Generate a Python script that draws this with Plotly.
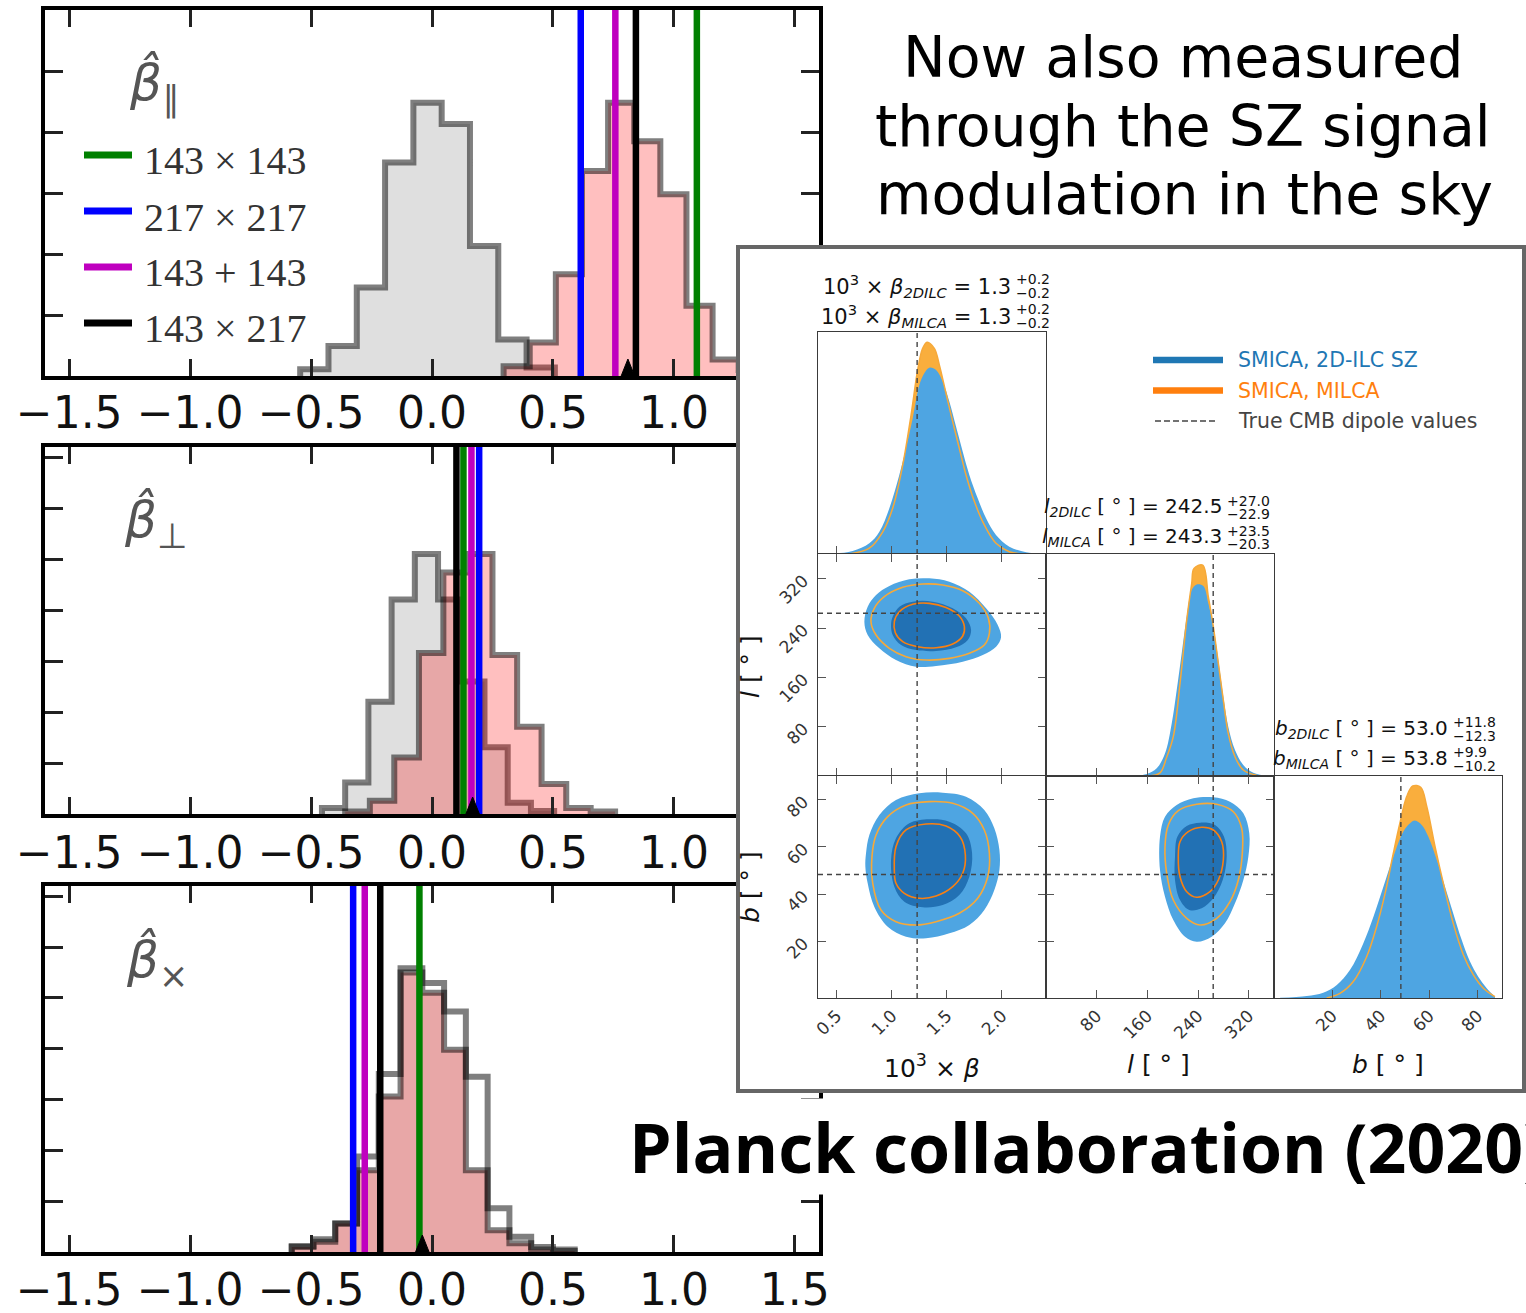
import plotly.graph_objects as go

W, H = 1526, 1313


def fx(p):
    return p / W


def fy(p):
    return 1 - p / H


# ---------------------------------------------------------------------------
# Left column: histograms of the boost estimators (null vs. signal)
# ---------------------------------------------------------------------------
est_xticks = [-1.5, -1.0, -0.5, 0.0, 0.5, 1.0, 1.5]
est_names = ["143 × 143", "217 × 217", "143 + 143", "143 × 217"]
est_colors = ["#008000", "#0000ff", "#bf00bf", "#000000"]

# beta parallel
par_null_edges = [-0.545, -0.428, -0.311, -0.194, -0.077, 0.040, 0.157, 0.274, 0.391, 0.508]
par_null_counts = [0.11, 0.49, 1.45, 3.50, 4.48, 4.13, 2.13, 0.60, 0.14]
par_sig_edges = [0.296, 0.404, 0.512, 0.620, 0.728, 0.836, 0.944, 1.052, 1.160, 1.268, 1.376]
par_sig_counts = [0.16, 0.55, 1.67, 3.36, 4.48, 3.85, 2.98, 1.15, 0.27, 0.10]
par_lines = [1.095, 0.615, 0.758, 0.843]
par_peak = 0.81

# beta perpendicular
perp_null_edges = [-0.455, -0.359, -0.263, -0.167, -0.071, 0.025, 0.121, 0.217, 0.313, 0.409, 0.505]
perp_null_counts = [0.12, 0.62, 2.20, 4.21, 5.10, 4.21, 2.60, 1.31, 0.22, 0.06]
perp_sig_edges = [-0.359, -0.257, -0.156, -0.054, 0.047, 0.149, 0.250, 0.352, 0.453, 0.555, 0.656, 0.757]
perp_sig_counts = [0.05, 0.26, 1.11, 3.16, 4.74, 5.10, 3.12, 1.71, 0.59, 0.12, 0.05]
perp_lines = [0.130, 0.195, 0.163, 0.101]
perp_peak = 0.168

# beta cross
cross_edges = [-0.58, -0.49, -0.40, -0.31, -0.22, -0.13, -0.04, 0.05, 0.14, 0.23, 0.32, 0.41, 0.50, 0.59]
cross_null_counts = [0.12, 0.25, 0.56, 1.88, 3.50, 5.58, 5.29, 4.73, 3.45, 0.86, 0.30, 0.10, 0.05]
cross_sig_counts = [0.10, 0.20, 0.56, 1.61, 3.06, 5.50, 5.10, 3.98, 1.61, 0.43, 0.17, 0.05, 0.02]
cross_lines = [-0.052, -0.326, -0.278, -0.214]
cross_peak = -0.040

# ---------------------------------------------------------------------------
# Right inset: posterior of the dipole from the SZ modulation
# ---------------------------------------------------------------------------
truth_beta, truth_l, truth_b = 1.23, 264.0, 48.3

beta_x_2dilc = [0.36, 0.49, 0.645, 0.796, 0.887, 0.978, 1.068, 1.129, 1.19, 1.25, 1.295, 1.341, 1.402,
                1.462, 1.523, 1.583, 1.644, 1.704, 1.78, 1.856, 1.946, 2.067, 2.22, 2.37]
beta_p_2dilc = [0.0, 0.003, 0.014, 0.048, 0.10, 0.206, 0.356, 0.476, 0.611, 0.761, 0.814, 0.839, 0.829,
                0.776, 0.686, 0.574, 0.461, 0.356, 0.251, 0.161, 0.086, 0.033, 0.008, 0.001]
beta_x_milca = [0.614, 0.796, 0.918, 1.008, 1.099, 1.175, 1.235, 1.28, 1.32, 1.386, 1.432, 1.492, 1.553,
                1.613, 1.674, 1.75, 1.84, 1.946, 2.067, 2.19]
beta_p_milca = [0.0, 0.026, 0.10, 0.206, 0.40, 0.626, 0.829, 0.926, 0.954, 0.926, 0.851, 0.724, 0.596,
                0.476, 0.356, 0.236, 0.131, 0.048, 0.010, 0.0]

l_x_2dilc = [143.2, 159, 174.8, 188, 198.5, 206.4, 214.3, 222.2, 230.1, 238, 248.4, 256.3, 264.2,
             272.1, 280, 287.8, 298.4, 311.5, 327.3, 353.7]
l_p_2dilc = [0.0, 0.009, 0.035, 0.102, 0.237, 0.387, 0.553, 0.718, 0.838, 0.863, 0.856, 0.778, 0.673,
             0.523, 0.357, 0.222, 0.117, 0.05, 0.015, 0.0]
l_x_milca = [162, 180, 190.5, 201, 211.6, 222.2, 230.1, 233.7, 247.4, 256.3, 264.2, 272.1, 280,
             287.8, 298.4, 311.5, 332.6]
l_p_milca = [0.0, 0.014, 0.084, 0.177, 0.417, 0.703, 0.868, 0.935, 0.95, 0.808, 0.673, 0.508, 0.342,
             0.192, 0.087, 0.027, 0.003]

b_x_2dilc = [-1.5, 9.5, 16.3, 21.9, 27.3, 32.8, 37.0, 41.1, 45.2, 49.3, 52.1, 54.1, 56.9, 59.6, 63.1,
             66.5, 69.9, 73.4, 76.8, 80.2, 83.7, 87.1]
b_p_2dilc = [0.001, 0.009, 0.024, 0.059, 0.126, 0.246, 0.366, 0.501, 0.636, 0.749, 0.787, 0.799, 0.779,
             0.727, 0.622, 0.501, 0.381, 0.261, 0.164, 0.096, 0.044, 0.006]
b_x_milca = [17.7, 23.2, 28.7, 34.2, 38.3, 41.8, 45.2, 47.9, 50.7, 53.2, 56.5, 59.0, 62.4, 65.8, 69.9,
             74.1, 78.2, 82.3, 87.1]
b_p_milca = [0.0, 0.021, 0.074, 0.186, 0.321, 0.471, 0.652, 0.787, 0.907, 0.955, 0.949, 0.862, 0.682,
             0.517, 0.336, 0.194, 0.104, 0.044, 0.006]

# 2D credible regions (outer / inner), beta-l plane
bl_outer_2dilc = [(0.751, 250.2), (0.781, 274.5), (0.857, 293.5), (0.978, 308.1), (1.159, 318.9),
                  (1.341, 320.5), (1.523, 315.1), (1.704, 298.9), (1.856, 271.9), (1.962, 244.8),
                  (1.992, 224.9), (1.947, 209.7), (1.826, 196.2), (1.644, 185.4), (1.402, 178.4),
                  (1.220, 177.2), (1.038, 188.1), (0.887, 207.1), (0.781, 228.6)]
bl_inner_2dilc = [(1.008, 258.3), (1.069, 274.5), (1.190, 282.7), (1.372, 282.7), (1.553, 271.9),
                  (1.674, 255.7), (1.720, 236.7), (1.690, 220.5), (1.583, 208.6), (1.402, 202.7),
                  (1.220, 204.3), (1.084, 212.4), (1.008, 228.6), (0.993, 244.8)]
bl_outer_milca = [(0.811, 250.2), (0.841, 271.9), (0.932, 290.8), (1.099, 305.9), (1.281, 311.3),
                  (1.462, 309.7), (1.644, 300.5), (1.795, 280.0), (1.877, 255.7), (1.886, 231.4),
                  (1.840, 212.4), (1.704, 198.9), (1.523, 190.8), (1.311, 188.1), (1.129, 193.5),
                  (0.978, 207.1), (0.857, 228.6)]
bl_inner_milca = [(1.023, 250.2), (1.069, 266.4), (1.190, 278.4), (1.341, 280.0), (1.492, 273.2),
                  (1.613, 259.4), (1.659, 242.1), (1.644, 227.0), (1.553, 214.0), (1.402, 208.0),
                  (1.235, 209.7), (1.099, 217.8), (1.032, 232.4)]

# beta-b plane
bb_outer_2dilc = [(0.766, 57.27), (0.796, 65.02), (0.887, 73.49), (1.038, 79.84), (1.250, 82.67),
                  (1.462, 82.93), (1.674, 81.24), (1.840, 75.60), (1.931, 67.85), (1.977, 58.67),
                  (1.977, 50.20), (1.931, 41.73), (1.840, 33.26), (1.704, 26.91), (1.523, 23.39),
                  (1.311, 21.27), (1.129, 21.98), (0.963, 26.19), (0.841, 34.66), (0.781, 44.57),
                  (0.760, 51.6)]
bb_inner_2dilc = [(0.993, 54.43), (1.038, 63.61), (1.159, 69.97), (1.341, 71.66), (1.523, 70.67),
                  (1.674, 65.73), (1.729, 57.27), (1.704, 47.36), (1.613, 39.61), (1.462, 35.38),
                  (1.281, 34.40), (1.114, 36.78), (1.023, 43.13)]
bb_outer_milca = [(0.820, 55.84), (0.857, 65.02), (0.963, 72.78), (1.129, 77.72), (1.341, 79.13),
                  (1.553, 78.43), (1.735, 74.20), (1.840, 67.14), (1.886, 57.27), (1.871, 47.36),
                  (1.780, 38.22), (1.613, 31.86), (1.402, 28.33), (1.220, 26.91), (1.038, 28.33),
                  (0.902, 33.26), (0.827, 44.57)]
bb_inner_milca = [(1.023, 50.20), (1.038, 60.07), (1.129, 67.14), (1.311, 69.68), (1.492, 68.83),
                  (1.620, 64.30), (1.668, 56.55), (1.644, 48.80), (1.553, 43.13), (1.402, 39.19),
                  (1.250, 38.22), (1.114, 40.33), (1.038, 44.57)]

# l-b plane
lb_outer_2dilc = [(180.0, 64.30), (187.9, 72.78), (206.3, 77.72), (232.6, 80.55), (264.2, 80.97),
                  (290.5, 79.13), (311.6, 74.20), (321.0, 65.73), (319.5, 55.84), (311.6, 45.96),
                  (298.4, 36.09), (282.6, 27.63), (261.6, 21.98), (237.9, 19.84), (219.5, 21.98),
                  (201.0, 29.03), (187.9, 38.89), (180.0, 50.20)]
lb_inner_2dilc = [(203.7, 55.84), (207.4, 64.30), (222.2, 68.83), (243.2, 70.24), (266.9, 69.25),
                  (281.1, 64.30), (285.3, 55.84), (279.0, 45.96), (264.2, 38.22), (245.8, 33.98),
                  (226.3, 33.26), (211.6, 37.50), (203.7, 45.96)]
lb_outer_milca = [(187.9, 60.07), (193.1, 69.25), (208.9, 75.31), (237.9, 78.01), (269.5, 78.01),
                  (295.8, 74.88), (309.0, 67.85), (310.0, 57.27), (303.7, 45.96), (290.5, 36.78),
                  (269.5, 29.73), (243.2, 26.91), (222.2, 29.73), (201.0, 37.50), (190.6, 48.80)]
lb_inner_milca = [(208.9, 55.84), (211.6, 62.18), (224.7, 66.41), (245.8, 68.27), (264.2, 67.14),
                  (277.4, 62.18), (280.0, 54.43), (272.1, 45.96), (258.9, 41.01), (237.9, 38.64),
                  (222.2, 41.01), (211.6, 47.36)]

beta_ticks = [0.5, 1.0, 1.5, 2.0]
l_ticks = [80, 160, 240, 320]
b_ticks = [20, 40, 60, 80]

# ---------------------------------------------------------------------------
fig = go.Figure()

NULL_FILL = "rgba(128,128,128,0.25)"
SIG_FILL = "rgba(255,0,0,0.25)"
EDGE = "rgba(0,0,0,0.5)"


def step_xy(edges, counts):
    xs, ys = [edges[0]], [0]
    for i, c in enumerate(counts):
        xs += [edges[i], edges[i + 1]]
        ys += [c, c]
    xs.append(edges[-1])
    ys.append(0)
    return xs, ys


def add_hist(edges, counts, fill, ax, edge=EDGE):
    xs, ys = step_xy(edges, counts)
    fig.add_trace(go.Scatter(
        x=xs, y=ys, mode="lines", line=dict(color=edge, width=6),
        fill="toself" if fill else None, fillcolor=fill,
        xaxis="x" + ax, yaxis="y" + ax, showlegend=False, hoverinfo="skip"))


left_rows = [(10, 376), (447, 814), (886, 1252)]
left_x = (45, 819)
left_ymax = [6.0, 7.2, 7.2]
left_standoff = [-5, -3, -4]

panels = [
    ("", [(par_null_edges, par_null_counts, NULL_FILL), (par_sig_edges, par_sig_counts, SIG_FILL)],
     par_lines, par_peak),
    ("2", [(perp_null_edges, perp_null_counts, NULL_FILL), (perp_sig_edges, perp_sig_counts, SIG_FILL)],
     perp_lines, perp_peak),
    ("3", [(cross_edges, cross_sig_counts, "rgba(205,60,60,0.45)"), (cross_edges, cross_null_counts, None)],
     cross_lines, cross_peak),
]

for k, (ax, hists, vlines, peak) in enumerate(panels):
    ymax = left_ymax[k]
    for edges, counts, fill in hists:
        add_hist(edges, counts, fill, ax)
    for xv, col in zip(vlines, est_colors):
        fig.add_trace(go.Scatter(x=[xv, xv], y=[0, ymax], mode="lines", line=dict(color=col, width=6.5),
                                 xaxis="x" + ax, yaxis="y" + ax, showlegend=False, hoverinfo="skip"))
    # small marker of the estimator peak sitting on the axis
    top, bot = left_rows[k]
    unit_px = (bot - top) / ymax
    half_w, tip = 0.028, 17 / unit_px
    fig.add_trace(go.Scatter(x=[peak - half_w, peak, peak + half_w], y=[0, tip, 0], mode="lines",
                             fill="toself", fillcolor="black", line=dict(color="black", width=1),
                             xaxis="x" + ax, yaxis="y" + ax, showlegend=False, hoverinfo="skip"))

# white backdrop of the inset (its own subplot so it sits above the left panels)
inset_box = (736, 245, 1526, 1093)
fig.add_trace(go.Scatter(x=[None], y=[None], xaxis="x4", yaxis="y4", showlegend=False, hoverinfo="skip"))

BLUE_L, BLUE_D = "#4ea5e2", "#2271b4"
ORANGE_F, ORANGE_O, ORANGE_I = "#f9ae3d", "#f6a93a", "#f98012"
DASH = "#444444"


def add_pdf(ax, x2, p2, xm, pm, ymax=1.0, truth=None):
    fig.add_trace(go.Scatter(x=xm, y=pm, mode="lines", line=dict(width=0, shape="spline"),
                             fill="tozeroy", fillcolor=ORANGE_F, xaxis="x" + ax, yaxis="y" + ax,
                             showlegend=False, hoverinfo="skip"))
    fig.add_trace(go.Scatter(x=x2, y=p2, mode="lines", line=dict(width=0, shape="spline"),
                             fill="tozeroy", fillcolor=BLUE_L, xaxis="x" + ax, yaxis="y" + ax,
                             showlegend=False, hoverinfo="skip"))
    fig.add_trace(go.Scatter(x=xm, y=pm, mode="lines", line=dict(width=1.5, color=ORANGE_O, shape="spline"),
                             xaxis="x" + ax, yaxis="y" + ax, showlegend=False, hoverinfo="skip"))
    fig.add_trace(go.Scatter(x=[truth, truth], y=[0, ymax], mode="lines",
                             line=dict(width=1.4, color=DASH, dash="5px,4px"),
                             xaxis="x" + ax, yaxis="y" + ax, showlegend=False, hoverinfo="skip"))


def closed(pts):
    xs = [p[0] for p in pts] + [pts[0][0]]
    ys = [p[1] for p in pts] + [pts[0][1]]
    return xs, ys


def add_2d(ax, outer2, inner2, outerm, innerm, tx, ty, xr, yr):
    for pts, col in [(outer2, BLUE_L), (inner2, BLUE_D)]:
        xs, ys = closed(pts)
        fig.add_trace(go.Scatter(x=xs, y=ys, mode="lines", fill="toself", fillcolor=col,
                                 line=dict(width=0, shape="spline", smoothing=1.0),
                                 xaxis="x" + ax, yaxis="y" + ax, showlegend=False, hoverinfo="skip"))
    for pts, col in [(outerm, ORANGE_O), (innerm, ORANGE_I)]:
        xs, ys = closed(pts)
        fig.add_trace(go.Scatter(x=xs, y=ys, mode="lines",
                                 line=dict(width=1.6, color=col, shape="spline", smoothing=1.0),
                                 xaxis="x" + ax, yaxis="y" + ax, showlegend=False, hoverinfo="skip"))
    fig.add_trace(go.Scatter(x=[tx, tx], y=yr, mode="lines", line=dict(width=1.4, color=DASH, dash="5px,4px"),
                             xaxis="x" + ax, yaxis="y" + ax, showlegend=False, hoverinfo="skip"))
    fig.add_trace(go.Scatter(x=xr, y=[ty, ty], mode="lines", line=dict(width=1.4, color=DASH, dash="5px,4px"),
                             xaxis="x" + ax, yaxis="y" + ax, showlegend=False, hoverinfo="skip"))


beta_rng, l_rng, b_rng = [0.33, 2.40], [0, 360], [-4, 90]

add_pdf("5", beta_x_2dilc, beta_p_2dilc, beta_x_milca, beta_p_milca, truth=truth_beta)
add_2d("6", bl_outer_2dilc, bl_inner_2dilc, bl_outer_milca, bl_inner_milca, truth_beta, truth_l, beta_rng, l_rng)
add_pdf("7", l_x_2dilc, l_p_2dilc, l_x_milca, l_p_milca, truth=truth_l)
add_2d("8", bb_outer_2dilc, bb_inner_2dilc, bb_outer_milca, bb_inner_milca, truth_beta, truth_b, beta_rng, b_rng)
add_2d("9", lb_outer_2dilc, lb_inner_2dilc, lb_outer_milca, lb_inner_milca, truth_l, truth_b, l_rng, b_rng)
add_pdf("10", b_x_2dilc, b_p_2dilc, b_x_milca, b_p_milca, truth=truth_b)

# ---------------------------------------------------------------------------
layout = dict(
    width=W, height=H, margin=dict(l=0, r=0, t=0, b=0, pad=0, autoexpand=False),
    paper_bgcolor="white", plot_bgcolor="white",
    font=dict(family="DejaVu Sans", color="#111"),
    showlegend=False,
)

for k, ax in enumerate(["", "2", "3"]):
    top, bot = left_rows[k]
    ymax = left_ymax[k]
    layout["xaxis" + ax] = dict(
        domain=[fx(left_x[0]), fx(left_x[1])], range=[-1.6, 1.6], anchor="y" + ax,
        tickvals=est_xticks, tickformat=".1f", ticks="inside", ticklen=17, tickwidth=2.5, tickcolor="#222",
        showline=True, linecolor="black", linewidth=3.5, mirror="ticks", showgrid=False, zeroline=False,
        tickfont=dict(family="DejaVu Sans", size=44, color="#111"), ticklabelstandoff=left_standoff[k],
        automargin=False, ticklabeloverflow="allow")
    layout["yaxis" + ax] = dict(
        domain=[fy(bot), fy(top)], range=[0, ymax], anchor="x" + ax,
        tickvals=list(range(1, int(ymax) + 1)) if ymax > 6.5 else [1, 2, 3, 4, 5],
        showticklabels=False, ticks="inside", ticklen=18, tickwidth=2.5, tickcolor="#222",
        showline=True, linecolor="black", linewidth=3.5, mirror="ticks", showgrid=False, zeroline=False,
        automargin=False)

layout["xaxis4"] = dict(domain=[fx(inset_box[0]), fx(inset_box[2])], range=[0, 1], visible=False,
                        anchor="y4", automargin=False)
layout["yaxis4"] = dict(domain=[fy(inset_box[3]), fy(inset_box[1])], range=[0, 1], visible=False,
                        anchor="x4", automargin=False)

cols = [(818, 1046), (1046, 1274), (1274, 1502)]
rows = [(332, 554), (554, 776), (776, 998)]
TICKFONT = dict(family="DejaVu Sans", size=17, color="#333")


def corner_axis(dom, rng, tv, labels, mirror, ticks=True, anchor=None, standoff=0):
    return dict(domain=dom, range=rng, tickvals=tv, ticktext=[str(t) for t in tv],
                showticklabels=labels, ticks="inside" if ticks else "", ticklen=8, tickwidth=1.2,
                tickcolor="#555", showline=True, linecolor="#3a3a3a", linewidth=1.4, mirror=mirror,
                showgrid=False, zeroline=False, tickangle=-45, tickfont=TICKFONT, anchor=anchor,
                automargin=False, ticklabeloverflow="allow", ticklabelstandoff=standoff)


def cx(c):
    return [fx(cols[c][0]), fx(cols[c][1])]


def ry(r):
    return [fy(rows[r][1]), fy(rows[r][0])]


# (axis id, column, row, x range, x ticks, y range, y ticks, diagonal?)
corner = [
    ("5", 0, 0, beta_rng, beta_ticks, [0, 1.0], [], True),
    ("6", 0, 1, beta_rng, beta_ticks, l_rng, l_ticks, False),
    ("7", 1, 1, l_rng, l_ticks, [0, 1.0], [], True),
    ("8", 0, 2, beta_rng, beta_ticks, b_rng, b_ticks, False),
    ("9", 1, 2, l_rng, l_ticks, b_rng, b_ticks, False),
    ("10", 2, 2, b_rng, b_ticks, [0, 1.0], [], True),
]
for ax, c, r, xr, xt, yr, yt, diag in corner:
    layout["xaxis" + ax] = corner_axis(cx(c), xr, xt, r == 2, True if diag else "ticks", anchor="y" + ax)
    layout["yaxis" + ax] = corner_axis(ry(r), yr, yt, (c == 0 and not diag), True if diag else "ticks",
                                       ticks=not diag, anchor="x" + ax, standoff=10)

fig.update_layout(**layout)

# ---------------------------------------------------------------------------
shapes = []
ann = []


def text(px, py, s, size, color="#111", xanchor="center", yanchor="middle", family="DejaVu Sans",
         angle=0, bg=None):
    ann.append(dict(x=fx(px), y=fy(py), xref="paper", yref="paper", text=s, showarrow=False,
                    xanchor=xanchor, yanchor=yanchor, textangle=angle, bgcolor=bg,
                    font=dict(family=family, size=size, color=color)))


# panel labels
text(127, 85, "<i>β̂</i><sub>∥</sub>", 50, color="#555", xanchor="left")
text(122, 522, "<i>β̂</i><sub>⊥</sub>", 50, color="#555", xanchor="left")
text(124, 962, "<i>β̂</i><sub>×</sub>", 50, color="#555", xanchor="left")

# estimator legend in the first panel
for i, (name, col) in enumerate(zip(est_names, est_colors)):
    yy = 155 + 56 * i
    shapes.append(dict(type="line", xref="paper", yref="paper", x0=fx(84), x1=fx(132), y0=fy(yy), y1=fy(yy),
                       line=dict(color=col, width=7)))
    text(142, yy + 6, name, 40, color="#333", xanchor="left", family="Liberation Serif")

# headline texts
text(1183, 57, "Now also measured", 57, color="#000")
text(1183, 126, "through the SZ signal", 57, color="#000")
text(1184, 194, "modulation in the sky", 57, color="#000")
text(627, 1146, "<b>Planck collaboration (2020)</b>", 68, color="#000", xanchor="left", bg="white",
     family="Open Sans")

# inset frame
shapes.append(dict(type="rect", xref="paper", yref="paper", x0=fx(738), x1=fx(1524), y0=fy(1091), y1=fy(247),
                   line=dict(color="#666", width=4), fillcolor="rgba(0,0,0,0)"))

# inset legend
for yy, col, dash, lab, tcol in [(360, "#1f77b4", None, "SMICA, 2D-ILC SZ", "#1f77b4"),
                                 (390.5, "#ff7f0e", None, "SMICA, MILCA", "#ff7f0e"),
                                 (421, "#444", "6px,3px", "True CMB dipole values", "#444")]:
    shapes.append(dict(type="line", xref="paper", yref="paper", x0=fx(1153 if dash is None else 1155),
                       x1=fx(1223 if dash is None else 1218), y0=fy(yy), y1=fy(yy),
                       line=dict(color=col, width=6.5 if dash is None else 1.4, dash=dash)))
    text(1236, yy, lab, 20.5, color=tcol, xanchor="left")


def value_label(right_px, cy, main, plus, minus, size=20, dy=7):
    text(right_px, cy, main, size, color="#111", xanchor="right")
    text(right_px + 1, cy - dy, plus, 14, color="#111", xanchor="left")
    text(right_px + 1, cy + dy, minus, 14, color="#111", xanchor="left")


value_label(1013, 286, "10<sup>3</sup> × <i>β</i><sub><i>2DILC</i></sub> = 1.3", "+0.2", "−0.2", size=21)
value_label(1013, 316, "10<sup>3</sup> × <i>β</i><sub><i>MILCA</i></sub> = 1.3", "+0.2", "−0.2", size=21)
value_label(1224, 507, "<i>l</i><sub><i>2DILC</i></sub> [ ° ] = 242.5", "+27.0", "−22.9", dy=6.5)
value_label(1224, 537, "<i>l</i><sub><i>MILCA</i></sub> [ ° ] = 243.3", "+23.5", "−20.3", dy=6.5)
value_label(1450, 729, "<i>b</i><sub><i>2DILC</i></sub> [ ° ] = 53.0", "+11.8", "−12.3")
value_label(1450, 759, "<i>b</i><sub><i>MILCA</i></sub> [ ° ] = 53.8", "+9.9", "−10.2")

# corner axis titles
text(932, 1066, "10<sup>3</sup> × <i>β</i>", 25)
text(1158, 1064, "<i>l</i> [ ° ]", 25)
text(1388, 1064, "<i>b</i> [ ° ]", 25)
text(750, 667, "<i>l</i> [ ° ]", 25, angle=-90)
text(750, 887, "<i>b</i> [ ° ]", 25, angle=-90)

fig.update_layout(shapes=shapes, annotations=ann)
fig.write_html("out.html")
